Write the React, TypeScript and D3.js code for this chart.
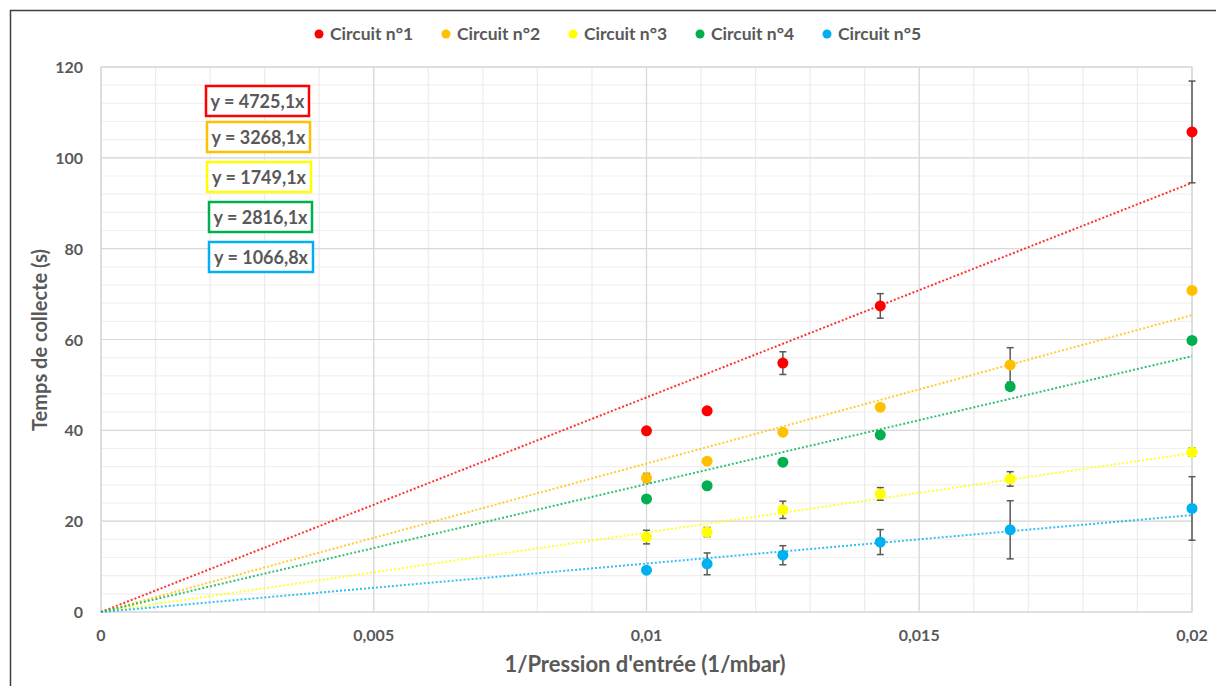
import React from "react";
import * as d3 from "d3";

const xValues = [1 / 100, 1 / 90, 1 / 80, 1 / 70, 1 / 60, 1 / 50];
const seriesNames = ["Circuit n°1", "Circuit n°2", "Circuit n°3", "Circuit n°4", "Circuit n°5"];
const seriesColors = ["#FF0000", "#FFC000", "#FFFF00", "#00B050", "#00B0F0"];
const slopes = [4725.1, 3268.1, 1749.1, 2816.1, 1066.8];
const equationLabels = ["y = 4725,1x", "y = 3268,1x", "y = 1749,1x", "y = 2816,1x", "y = 1066,8x"];

const circuit1 = [39.9, 44.3, 54.8, 67.4, null, 105.7];
const circuit2 = [29.5, 33.2, 39.6, 45.1, 54.4, 70.8];
const circuit3 = [16.5, 17.6, 22.5, 26.0, 29.3, 35.2];
const circuit4 = [24.9, 27.8, 33.0, 39.0, 49.6, 59.8];
const circuit5 = [9.2, 10.6, 12.5, 15.4, 18.1, 22.8];

const err1 = [null, null, 2.5, 2.7, null, 11.2];
const err2 = [1.0, null, null, null, 3.8, null];
const err3 = [1.5, 1.0, 1.9, 1.4, 1.6, 0.9];
const err4 = [null, null, null, null, null, null];
const err5 = [null, 2.4, 2.1, 2.75, 6.4, 7.0];

const seriesValues = [circuit1, circuit2, circuit3, circuit4, circuit5];
const seriesErrors = [err1, err2, err3, err4, err5];

const xTicks = [0, 0.005, 0.01, 0.015, 0.02];
const yTicks = [0, 20, 40, 60, 80, 100, 120];

const FONT = "Lato, 'Open Sans', sans-serif";
const TEXT = "#595959";

// layout of equation boxes (positions only)
const eqBoxes = [
  { x: 206, y: 86, w: 103 },
  { x: 207, y: 122, w: 103 },
  { x: 207, y: 162, w: 104 },
  { x: 209, y: 202, w: 103 },
  { x: 209, y: 242, w: 104 },
];

export default function App() {
  const W = 1216, H = 686;
  const left = 101, right = 1192, top = 67, bottom = 612;
  const x = d3.scaleLinear().domain([0, 0.02]).range([left, right]);
  const y = d3.scaleLinear().domain([0, 120]).range([bottom, top]);

  const minorX = d3.range(0, 0.02001, 0.001);
  const minorY = d3.range(0, 120.01, 4);

  const line = d3.line<[number, number]>().x(d => x(d[0])).y(d => y(d[1]));

  return (
    <svg width={W} height={H} style={{ position: "absolute", left: 0, top: 0, background: "#fff" }} fontFamily={FONT}>
      <rect x={0} y={0} width={W} height={H} fill="#fff" />
      {/* outer frame */}
      <path d={`M10.5,${H} V10.5 H${W}`} fill="none" stroke="#404040" strokeWidth={1.5} />

      {/* minor grid */}
      {minorY.map((v, i) => (
        <line key={"my" + i} x1={left} x2={right} y1={y(v)} y2={y(v)} stroke="#f0f0f0" strokeWidth={1.2} />
      ))}
      {minorX.map((v, i) => (
        <line key={"mx" + i} x1={x(v)} x2={x(v)} y1={top} y2={bottom} stroke="#ececec" strokeWidth={1.2} />
      ))}
      {/* major grid */}
      {yTicks.map((v, i) => (
        <line key={"gy" + i} x1={left} x2={right} y1={y(v)} y2={y(v)} stroke="#d9d9d9" strokeWidth={1.2} />
      ))}
      {xTicks.map((v, i) => (
        <line key={"gx" + i} x1={x(v)} x2={x(v)} y1={top} y2={bottom} stroke="#d9d9d9" strokeWidth={1.2} />
      ))}
      <rect x={left} y={top} width={right - left} height={bottom - top} fill="none" stroke="#d9d9d9" strokeWidth={1.2} />

      {/* tick labels */}
      {yTicks.map((v, i) => (
        <text key={"ty" + i} x={83} y={y(v) + 6} textAnchor="end" fontSize={16} fontWeight={700} fill={TEXT}>
          {v}
        </text>
      ))}
      {xTicks.map((v, i) => (
        <text key={"tx" + i} x={x(v)} y={641} textAnchor="middle" fontSize={16} fontWeight={700} fill={TEXT}>
          {d3.format("")(v).replace(".", ",")}
        </text>
      ))}

      {/* axis titles */}
      <text x={645} y={672} textAnchor="middle" fontSize={22} fontWeight={700} fill={TEXT}>
        1/Pression d'entrée (1/mbar)
      </text>
      <text transform="translate(47,340) rotate(-90)" textAnchor="middle" fontSize={20} fontWeight={700} fill={TEXT}>
        Temps de collecte (s)
      </text>

      {/* trendlines */}
      {slopes.map((k, i) => (
        <path
          key={"tl" + i}
          d={line([[0, 0], [0.02, k * 0.02]]) || ""}
          fill="none"
          stroke={seriesColors[i]}
          strokeOpacity={0.8}
          strokeWidth={2}
          strokeDasharray="2 2"
        />
      ))}

      {/* error bars */}
      {seriesValues.map((vals, si) =>
        vals.map((v, j) => {
          const e = seriesErrors[si][j];
          if (v == null || e == null) return null;
          const cx = x(xValues[j]);
          const y1 = y(v + e), y2 = y(v - e);
          return (
            <g key={`e${si}-${j}`} stroke="#595959" strokeWidth={1.5}>
              <line x1={cx} x2={cx} y1={y1} y2={y2} />
              <line x1={cx - 3.5} x2={cx + 3.5} y1={y1} y2={y1} />
              <line x1={cx - 3.5} x2={cx + 3.5} y1={y2} y2={y2} />
            </g>
          );
        })
      )}

      {/* points */}
      {seriesValues.map((vals, si) =>
        vals.map((v, j) =>
          v == null ? null : (
            <circle key={`p${si}-${j}`} cx={x(xValues[j])} cy={y(v)} r={5.5} fill={seriesColors[si]} />
          )
        )
      )}

      {/* equation boxes */}
      {equationLabels.map((t, i) => {
        const b = eqBoxes[i];
        return (
          <g key={"eq" + i}>
            <rect x={b.x} y={b.y} width={b.w} height={30} fill="#fff" stroke={seriesColors[i]} strokeWidth={2.5} />
            <text x={b.x + b.w / 2} y={b.y + 21.5} textAnchor="middle" fontSize={18} fontWeight={700} fill={TEXT}>
              {t}
            </text>
          </g>
        );
      })}

      {/* legend */}
      {seriesNames.map((n, i) => {
        const lx = 319 + i * 127;
        return (
          <g key={"lg" + i}>
            <circle cx={lx} cy={34} r={4.5} fill={seriesColors[i]} />
            <text x={lx + 11} y={40} fontSize={17.5} fontWeight={700} fill={TEXT}>
              {n}
            </text>
          </g>
        );
      })}
    </svg>
  );
}
